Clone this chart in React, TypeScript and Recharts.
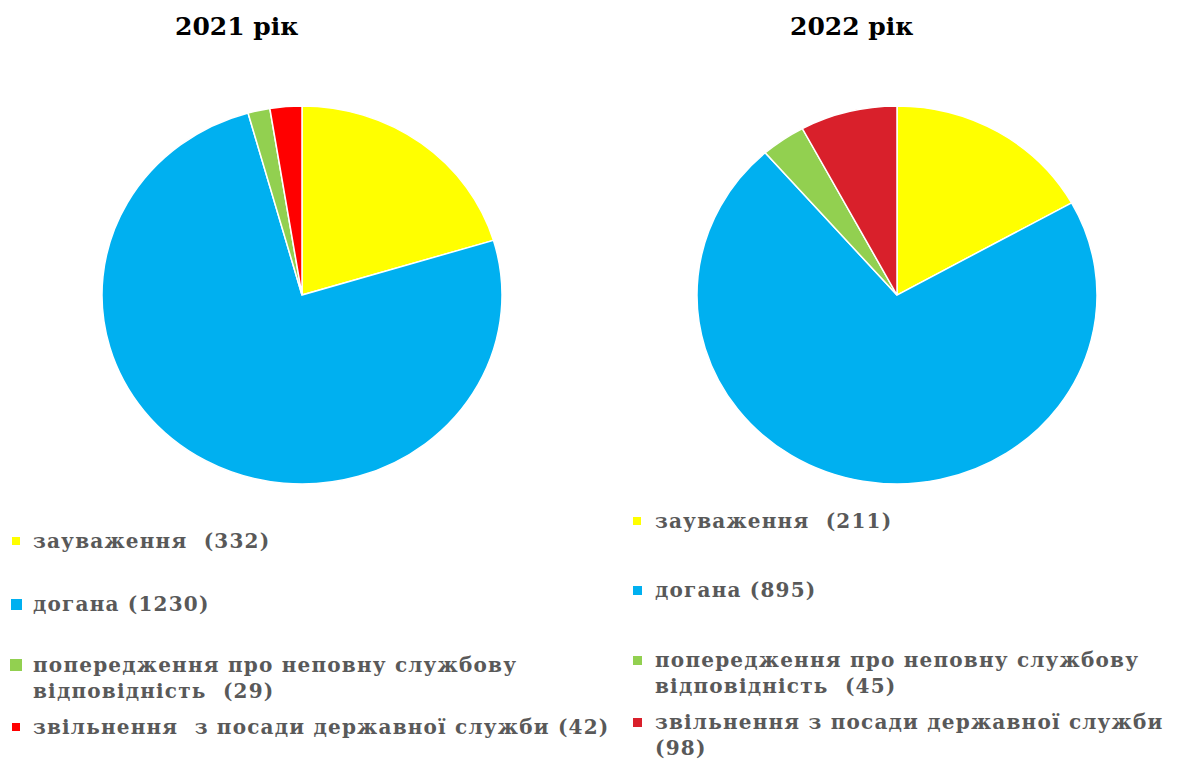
import React from "react";
import { PieChart, Pie, Cell } from "recharts";

const categories = [
  "зауваження",
  "догана",
  "попередження про неповну службову відповідність",
  "звільнення з посади державної служби",
];
const values2021 = [332, 1230, 29, 42];
const values2022 = [211, 895, 45, 98];
const colors2021 = ["#FFFF00", "#00B0F0", "#92D050", "#FF0000"];
const colors2022 = ["#FFFF00", "#00B0F0", "#92D050", "#D9202B"];

const legendLines2021 = [
  ["зауваження  (332)"],
  ["догана (1230)"],
  ["попередження про неповну службову", "відповідність  (29)"],
  ["звільнення  з посади державної служби (42)"],
];
const legendLines2022 = [
  ["зауваження  (211)"],
  ["догана (895)"],
  ["попередження про неповну службову", "відповідність  (45)"],
  ["звільнення з посади державної служби", "(98)"],
];

const abs = (left: number, top: number): React.CSSProperties => ({
  position: "absolute",
  left,
  top,
});

const legendText: React.CSSProperties = {
  fontFamily: "'DejaVu Serif', 'Liberation Serif', serif",
  fontWeight: "bold",
  fontSize: 20,
  color: "#595959",
  lineHeight: "26px",
  whiteSpace: "pre",
  letterSpacing: 1.2,
};

const titleStyle: React.CSSProperties = {
  fontFamily: "'DejaVu Serif', 'Liberation Serif', serif",
  fontWeight: "bold",
  fontSize: 25,
  color: "#000",
  whiteSpace: "nowrap",
};

type LegendProps = {
  lines: string[][];
  colors: string[];
  tops: number[];
  markerX: number;
  textX: number;
  sizes: number[];
};

const LegendBlock = ({ lines, colors, tops, markerX, textX, sizes }: LegendProps) => (
  <>
    {lines.map((l, i) => (
      <React.Fragment key={categories[i]}>
        <div
          style={{
            ...abs(markerX + (10 - sizes[i]) / 2, tops[i] + 13 - sizes[i] / 2),
            width: sizes[i],
            height: sizes[i],
            background: colors[i],
          }}
        />
        <div style={{ ...abs(textX, tops[i]), ...legendText }}>
          {l.map((t, j) => (
            <div key={j}>{t}</div>
          ))}
        </div>
      </React.Fragment>
    ))}
  </>
);

// the source pies are slightly squashed vertically
const squash = 0.945;

const YearPie = ({
  values,
  colors,
  left,
  cx,
  cy,
}: {
  values: number[];
  colors: string[];
  left: number;
  cx: number;
  cy: number;
}) => {
  const data = categories.map((name, i) => ({ name, value: values[i] }));
  return (
    <div
      style={{
        ...abs(left, 0),
        transform: `scaleY(${squash})`,
        transformOrigin: `${cx + 5}px ${cy + 5}px`,
      }}
    >
      <PieChart width={600} height={500}>
        <Pie
          data={data}
          dataKey="value"
          nameKey="name"
          cx={cx}
          cy={cy}
          outerRadius={200}
          startAngle={90}
          endAngle={-270}
          stroke="#ffffff"
          strokeWidth={1.5}
          isAnimationActive={false}
        >
          {data.map((d, i) => (
            <Cell key={d.name} fill={colors[i]} />
          ))}
        </Pie>
      </PieChart>
    </div>
  );
};

export default function App() {
  return (
    <div style={{ position: "absolute", left: 0, top: 0, width: 1181, height: 767, background: "#fff" }}>
      <div style={{ ...abs(175, 12), ...titleStyle }}>2021 рік</div>
      <div style={{ ...abs(790, 12), ...titleStyle }}>2022 рік</div>
      <YearPie values={values2021} colors={colors2021} left={0} cx={297} cy={290} />
      <YearPie values={values2022} colors={colors2022} left={600} cx={292} cy={290} />
      <LegendBlock
        lines={legendLines2021}
        colors={colors2021}
        tops={[528, 591, 652, 714]}
        markerX={11}
        textX={33}
        sizes={[8, 11, 12, 8]}
      />
      <LegendBlock
        lines={legendLines2022}
        colors={colors2022}
        tops={[508, 577, 647, 709]}
        markerX={632}
        textX={655}
        sizes={[8, 9, 9, 9]}
      />
    </div>
  );
}
